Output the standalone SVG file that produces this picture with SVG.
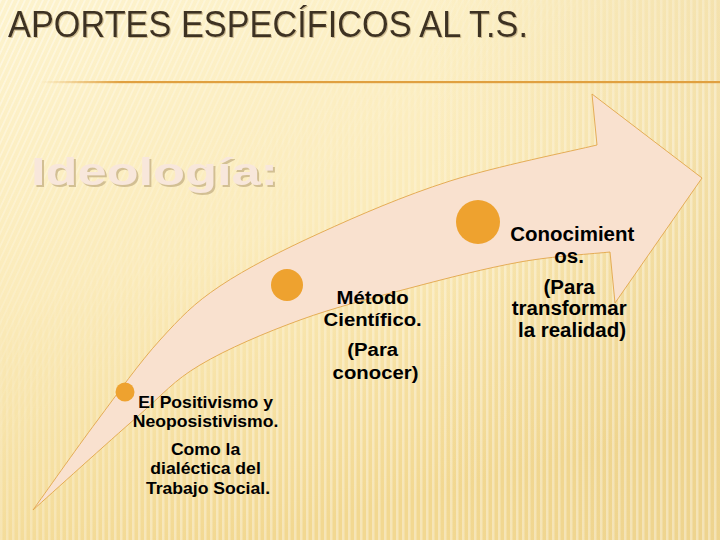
<svg xmlns="http://www.w3.org/2000/svg" width="720" height="540" viewBox="0 0 720 540">
  <defs>
    <linearGradient id="bg" x1="0" y1="0" x2="0.35" y2="1">
      <stop offset="0" stop-color="#FDF3CD"/>
      <stop offset="0.5" stop-color="#FBEBBA"/>
      <stop offset="1" stop-color="#F2D891"/>
    </linearGradient>
    <linearGradient id="bgR" x1="0" y1="0" x2="1" y2="0">
      <stop offset="0.6" stop-color="#E6CC8A" stop-opacity="0"/>
      <stop offset="1" stop-color="#E6CC8A" stop-opacity="0.35"/>
    </linearGradient>
    <pattern id="vstripes" width="6" height="10" patternUnits="userSpaceOnUse">
      <rect x="0" y="0" width="2.5" height="10" fill="#FFFFFF" fill-opacity="0.35"/>
    </pattern>
    <pattern id="dstripes" width="6" height="10" patternUnits="userSpaceOnUse" patternTransform="skewX(-25)">
      <rect x="0" y="0" width="2" height="10" fill="#FFFFFF" fill-opacity="0.45"/>
    </pattern>
    <linearGradient id="vmaskG" x1="0" y1="0" x2="1" y2="1">
      <stop offset="0.25" stop-color="#fff" stop-opacity="0"/>
      <stop offset="0.6" stop-color="#fff" stop-opacity="1"/>
    </linearGradient>
    <linearGradient id="dmaskG" x1="0" y1="0" x2="1" y2="1">
      <stop offset="0" stop-color="#fff" stop-opacity="1"/>
      <stop offset="0.45" stop-color="#fff" stop-opacity="0"/>
    </linearGradient>
    <mask id="vmask"><rect width="720" height="540" fill="url(#vmaskG)"/></mask>
    <mask id="dmask"><rect width="720" height="540" fill="url(#dmaskG)"/></mask>
    <linearGradient id="rule" x1="0" y1="0" x2="1" y2="0">
      <stop offset="0" stop-color="#E0A040" stop-opacity="0"/>
      <stop offset="0.12" stop-color="#E0A040" stop-opacity="1"/>
      <stop offset="1" stop-color="#E0A040"/>
    </linearGradient>
    <filter id="shTitle" x="-5%" y="-20%" width="110%" height="150%">
      <feDropShadow dx="1" dy="1" stdDeviation="0.4" flood-color="#C9B68A" flood-opacity="0.9"/>
    </filter>
    <filter id="shIdeo" x="-5%" y="-20%" width="110%" height="150%">
      <feDropShadow dx="2" dy="2" stdDeviation="0.6" flood-color="#D2BF93" flood-opacity="1"/>
    </filter>
    <style>
      .title { font-family: "Liberation Sans", Arial, sans-serif; font-size: 36px; fill: #3E3123; }
      .ideo { font-family: "Liberation Sans", Arial, sans-serif; font-size: 38px; font-weight: bold; fill: #F8E7DB; }
      .lbl { font-family: "Liberation Sans", Arial, sans-serif; font-weight: bold; fill: #000; text-anchor: middle; }
      .l1 { font-size: 16px; }
      .l2 { font-size: 19px; }
      .l3 { font-size: 19.5px; }
      .dot { fill: #EEA22F; }
      .arrow { fill: #F9E1CF; stroke: #E2A64A; stroke-width: 0.9; }
    </style>
  </defs>

  <!-- background -->
  <rect width="720" height="540" fill="url(#bg)"/>
  <rect width="720" height="540" fill="url(#bgR)"/>
  <rect width="720" height="540" fill="url(#vstripes)" mask="url(#vmask)"/>
  <rect width="720" height="540" fill="url(#dstripes)" mask="url(#dmask)"/>

  <!-- title -->
  <text class="title" x="8" y="37" textLength="520" lengthAdjust="spacingAndGlyphs" filter="url(#shTitle)">APORTES ESPECÍFICOS AL T.S.</text>
  <rect x="40" y="81" width="680" height="2.2" fill="url(#rule)"/>

  <!-- Ideología -->
  <text class="ideo" x="31" y="185" textLength="247" lengthAdjust="spacingAndGlyphs" filter="url(#shIdeo)">Ideología:</text>

  <!-- connectors: curved up arrow -->
  <g id="connectors">
    <path class="arrow" d="M33,510 C43.7,495.2 75.8,449.3 97,421 C118.2,392.7 139.5,362.5 160,340 C180.5,317.5 193.3,303.8 220,286 C246.7,268.2 281.7,250.5 320,233 C358.3,215.5 403.8,195.7 450,181 C496.2,166.3 572.5,151 597,145 L592,94 L702,178 L615,303 L610,252 C595,253.7 553.3,256 520,262 C486.7,268 446.7,278.3 410,288 C373.3,297.7 335,307.2 300,320 C265,332.8 227.2,348.8 200,365 C172.8,381.2 164.8,392.8 137,417 C109.2,441.2 50.3,494.5 33,510 Z"/>
  </g>

  <!-- node 1 -->
  <g id="node-positivismo">
    <circle class="dot" cx="125" cy="392" r="9.5"/>
    <text class="lbl l1" transform="translate(208,0) scale(1.1,1)">
      <tspan x="0" y="408">El Positivismo y</tspan>
      <tspan x="0" y="427.5">Neoposistivismo.</tspan>
      <tspan x="0" y="455">Como la</tspan>
      <tspan x="0" y="474">dialéctica del</tspan>
      <tspan x="0" y="494">Trabajo Social.</tspan>
    </text>
  </g>

  <!-- node 2 -->
  <g id="node-metodo">
    <circle class="dot" cx="287" cy="285" r="16"/>
    <text class="lbl l2" transform="translate(375.5,0) scale(1.07,1)">
      <tspan x="0" y="304">Método</tspan>
      <tspan x="0" y="326.5">Científico.</tspan>
      <tspan x="0" y="356">(Para</tspan>
      <tspan x="0" y="379">conocer)</tspan>
    </text>
  </g>

  <!-- node 3 -->
  <g id="node-conocimientos">
    <circle class="dot" cx="478" cy="222" r="22"/>
    <text class="lbl l3" transform="translate(572,0) scale(1.05,1)">
      <tspan x="3" y="241">Conocimient</tspan>
      <tspan x="0" y="263">os.</tspan>
      <tspan x="0" y="294">(Para</tspan>
      <tspan x="0" y="315.5">transformar</tspan>
      <tspan x="0" y="337">la realidad)</tspan>
    </text>
  </g>
</svg>
